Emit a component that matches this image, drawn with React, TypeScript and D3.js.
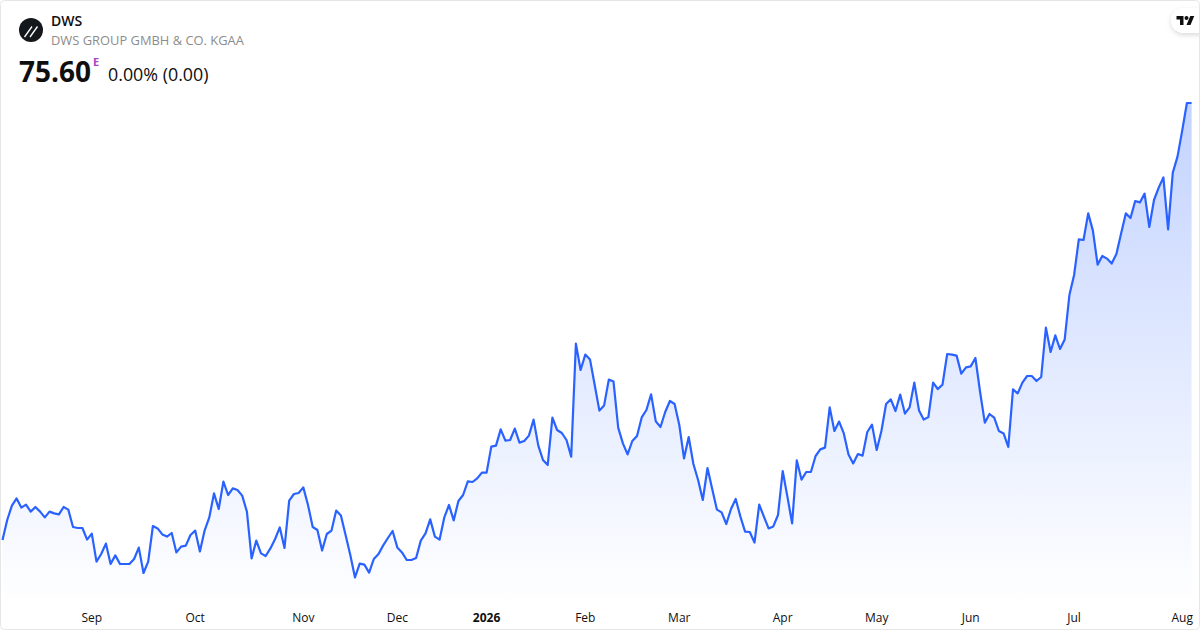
import React from 'react';
import * as d3 from 'd3';

const ticker = 'DWS';
const company = 'DWS GROUP GMBH & CO. KGAA';
const lastPrice = '75.60';
const change = '0.00% (0.00)';

// daily closes
const closes2025a = [
    53.75, 54.75, 55.47, 55.83, 55.37, 55.52, 55.17, 55.40, 55.17, 54.88, 55.17, 55.08, 55.03, 55.40, 55.27, 54.40,
    54.35, 54.35, 53.77, 54.07, 52.67, 53.05, 53.57, 52.55, 52.98, 52.55, 52.55, 52.55, 52.80, 53.37, 52.10, 52.67,
    54.45, 54.33, 54.03, 53.92, 54.10, 53.13, 53.42, 53.47, 54.00, 54.22, 53.18, 54.22, 54.88, 56.08, 55.30, 56.67,
    56.00, 56.33, 56.25, 55.97, 55.17, 52.83, 53.72, 53.08, 52.95, 53.33, 53.80, 54.38, 53.35, 55.72, 56.05, 56.10,
];
const closes2025b = [
    56.38, 55.50, 54.40, 54.25, 53.23, 54.05, 54.22, 55.22, 54.98, 54.00, 53.00, 51.88, 52.57, 52.52, 52.12, 52.80,
    53.05, 53.48, 53.85, 54.20, 53.38, 53.13, 52.75, 52.75, 52.85, 53.72, 54.08, 54.78, 53.92, 53.77, 54.88, 55.50,
    54.73, 55.70, 56.00, 56.68, 56.65, 56.83, 57.12,
];
const closes2026a = [
    57.12, 58.42, 58.47, 59.28, 58.72, 58.75, 59.32, 58.62, 58.70, 58.97, 59.77, 58.47, 57.75, 57.50, 59.87, 59.25,
    59.10, 58.75, 57.92, 63.57, 62.25, 63.02, 62.78, 61.50, 60.22, 60.48, 61.77, 61.67, 59.37, 58.58, 58.03, 58.70,
    58.95, 59.88, 60.25, 61.03, 59.68, 59.40, 60.15, 60.70, 60.55, 59.50, 57.83, 58.90, 57.55, 56.75, 55.75, 57.35,
    56.30, 55.27, 55.13, 54.55, 55.30, 55.80, 54.92, 54.17, 54.15, 53.62, 55.52, 54.92, 54.33, 54.43, 55.00, 57.20,
];
const closes2026b = [
    55.92, 54.58, 57.73, 56.77, 57.15, 57.15, 57.95, 58.28, 58.37, 60.38, 59.20, 59.67, 59.08, 58.03, 57.58, 58.05,
    57.97, 59.15, 59.52, 58.25, 59.20, 60.55, 60.78, 60.20, 61.02, 60.07, 60.38, 61.62, 60.23, 59.77, 59.90, 61.62,
    61.30, 61.52, 63.05, 63.02, 62.97, 62.07, 62.38, 62.43, 62.85, 61.15, 59.62, 60.05, 59.87, 59.20, 59.08, 58.40,
    61.28, 61.08, 61.62, 61.95, 61.95, 61.70, 61.90, 64.37, 63.15, 63.98, 63.30, 63.78, 66.00, 67.00, 68.78, 68.75,
    70.08, 69.22, 67.52, 67.95, 67.82, 67.57, 68.05, 69.08, 70.08, 69.85, 70.70, 70.63, 71.07, 69.40, 70.75, 71.37,
    71.88, 69.28, 72.12, 72.92, 74.22, 75.60, 75.60,
];
const closes = [...closes2025a, ...closes2025b, ...closes2026a, ...closes2026b];

const tickLabels = ['Sep', 'Oct', 'Nov', 'Dec', '2026', 'Feb', 'Mar', 'Apr', 'May', 'Jun', 'Jul', 'Aug'];
const tickIndex = [19, 41, 64, 84, 103, 124, 144, 166, 186, 206, 228, 251];

const font = '"Open Sans", sans-serif';

const App: React.FC = () => {
    const x = d3.scaleLinear().domain([0, closes.length - 1]).range([2.5, 1191.6]);
    const y = d3.scaleLinear().domain([51.85, 75.6]).range([578, 103]);

    const line = d3.line<number>()
        .x((_, i) => x(i))
        .y(d => y(d));

    const area = d3.area<number>()
        .x((_, i) => x(i))
        .y0(605)
        .y1(d => y(d));

    return (
        <svg width={1200} height={630} style={{ position: 'fixed', left: 0, top: 0, background: '#fff' }}>
            <defs>
                <linearGradient id="area-gradient" gradientUnits="userSpaceOnUse" x1="0" y1="103" x2="0" y2="605">
                    <stop offset="0%" stopColor="#2962FF" stopOpacity={0.28} />
                    <stop offset="100%" stopColor="#2962FF" stopOpacity={0} />
                </linearGradient>
                <filter id="badge-shadow" x="-30%" y="-30%" width="160%" height="180%">
                    <feDropShadow dx="0" dy="2" stdDeviation="2.5" floodColor="#000" floodOpacity={0.15} />
                </filter>
            </defs>

            <path d={area(closes) || ''} fill="url(#area-gradient)" />
            <path d={line(closes) || ''} fill="none" stroke="#2962FF" strokeWidth={2.2} strokeLinejoin="round" />

            {/* month labels */}
            {tickLabels.map((label, i) => (
                <text
                    key={label}
                    x={x(tickIndex[i])}
                    y={622}
                    textAnchor="middle"
                    fontFamily={font}
                    fontSize={12}
                    fontWeight={label === '2026' ? 700 : 400}
                    fill="#0f0f0f"
                >
                    {label}
                </text>
            ))}

            {/* header */}
            <circle cx={31} cy={30} r={12} fill="#14171c" />
            <path d="M24.500 37L32 26.500M30 37L37.500 26.500" stroke="#fff" strokeWidth={1.3} fill="none" />
            <text x={51} y={26} fontFamily={font} fontSize={14} fontWeight={600} fill="#0f0f0f">{ticker}</text>
            <text x={51} y={45} fontFamily={font} fontSize={12.9} fill="#8c8c8c">{company}</text>
            <text x={19} y={82} fontFamily={font} fontSize={28} fontWeight={700} fill="#0f0f0f">{lastPrice}</text>
            <text x={93} y={66} fontFamily={font} fontSize={11} fontWeight={700} fill="#ab47bc">E</text>
            <text x={108} y={81} fontFamily={font} fontSize={17.85} fill="#0f0f0f">{change}</text>

            {/* TradingView badge */}
            <rect x={1171} y={8} width={44} height={25} rx={12.5} fill="#fff" filter="url(#badge-shadow)" />
            <g transform="translate(1176.500,14) scale(0.5)" fill="#0f0f0f">
                <path d="M14 22H7V11H0V4h14v18zM28 22h-8l7.500-18h8L28 22z" />
                <circle cx={20} cy={8} r={4} />
            </g>

            {/* card border */}
            <rect x={0.5} y={0.5} width={1199} height={629} rx={4} fill="none" stroke="#e6e6e6" />
        </svg>
    );
};

export default App;
